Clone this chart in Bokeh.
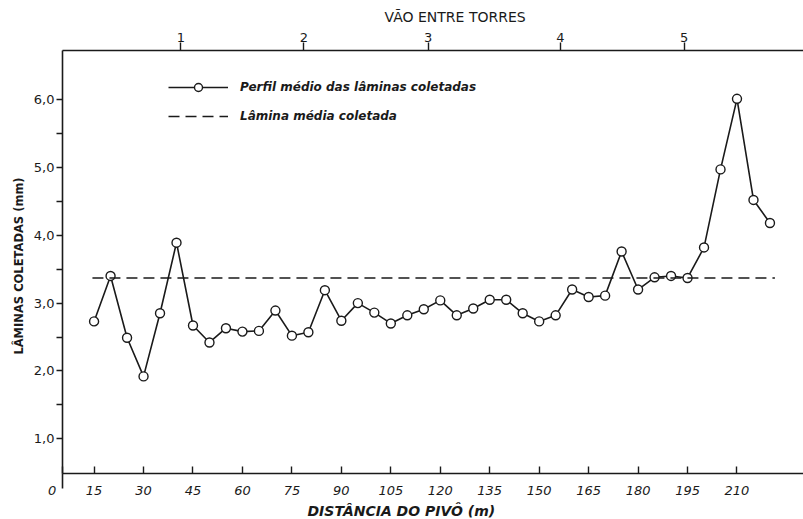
from bokeh.plotting import figure
from bokeh.models import (Range1d, LinearAxis, FixedTicker, CustomJSTickFormatter,
                          Legend, LegendItem, Title)
from bokeh.embed import file_html
from bokeh.resources import INLINE

# ---------------- data ----------------
distancia = list(range(15, 221, 5))  # m
lamina = [2.73, 3.40, 2.49, 1.92, 2.85, 3.89, 2.67, 2.42, 2.63, 2.58,
          2.59, 2.89, 2.52, 2.57, 3.19, 2.74, 3.00, 2.86, 2.70, 2.82,
          2.91, 3.04, 2.82, 2.92, 3.05, 3.05, 2.85, 2.73, 2.82, 3.20,
          3.09, 3.11, 3.76, 3.20, 3.38, 3.40, 3.37, 3.82, 4.97, 6.01,
          4.52, 4.18]
lamina_media = 3.37
media_x = [14.5, 221.5]
torres_pos = [41.3, 78.6, 116.3, 156.4, 194.0]
torres_rot = ["1", "2", "3", "4", "5"]
x_ticks = list(range(15, 211, 15))
y_ticks = [1, 2, 3, 4, 5, 6]
y_minor = [1.5, 2.5, 3.5, 4.5, 5.5]
y_rot = ["1,0", "2,0", "3,0", "4,0", "5,0", "6,0"]

X0, X1 = 5.42, 230.17
Y0, Y1 = 0.489, 6.722
INK = "#1a1a1a"
FONT = "DejaVu Sans"

p = figure(width=803, height=519, output_backend="svg", toolbar_location=None,
           x_range=Range1d(X0, X1), y_range=Range1d(Y0, Y1),
           x_axis_location=None, y_axis_location=None,
           min_border_left=62, min_border_top=50, min_border_bottom=46,
           min_border_right=0)
p.outline_line_color = None
p.xgrid.visible = False
p.ygrid.visible = False
p.background_fill_color = "white"
p.border_fill_color = "white"

origem = X0 + 0.01  # broken origin "0" at the corner

# bottom axis
xb = LinearAxis(ticker=FixedTicker(ticks=[origem] + x_ticks, minor_ticks=[origem]),
                formatter=CustomJSTickFormatter(
                    args=dict(zero="0" + "\u00a0" * 5, lim=X0 + 1),
                    code="return tick < lim ? zero : tick.toFixed(0)"))
xb.major_tick_in = 7
xb.major_tick_out = 0
xb.minor_tick_in = 0
xb.minor_tick_out = 15
xb.minor_tick_line_color = INK
xb.minor_tick_line_width = 1.6
xb.major_label_standoff = -6
xb.major_label_text_font = FONT
xb.major_label_text_font_style = "italic"
xb.major_label_text_font_size = "13px"
xb.major_label_text_color = INK
xb.axis_line_color = INK
xb.axis_line_width = 1.6
xb.major_tick_line_color = INK
xb.major_tick_line_width = 1.4
p.add_layout(xb, "below")

# top axis (towers)
xt = LinearAxis(ticker=FixedTicker(ticks=torres_pos, minor_ticks=[]),
                formatter=CustomJSTickFormatter(args=dict(rot=torres_rot),
                                                code="return rot[index]"))
xt.major_tick_in = 0
xt.major_tick_out = 8
xt.minor_tick_line_color = None
xt.major_label_standoff = 1
xt.major_label_text_font = FONT
xt.major_label_text_font_size = "13px"
xt.major_label_text_color = INK
xt.axis_line_color = INK
xt.axis_line_width = 1.6
xt.major_tick_line_color = INK
xt.major_tick_line_width = 1.4
p.add_layout(xt, "above")

# left axis
yl = LinearAxis(ticker=FixedTicker(ticks=y_ticks, minor_ticks=y_minor))
yl.major_label_overrides = {t: s for t, s in zip(y_ticks, y_rot)}
yl.major_tick_in = 0
yl.major_tick_out = 6
yl.minor_tick_in = 0
yl.minor_tick_out = 6
yl.major_label_standoff = 2
yl.major_label_text_font = FONT
yl.major_label_text_font_size = "13px"
yl.major_label_text_color = INK
yl.axis_line_color = INK
yl.axis_line_width = 1.6
yl.major_tick_line_color = INK
yl.minor_tick_line_color = INK
yl.major_tick_line_width = 1.4
yl.minor_tick_line_width = 1.4
yl.axis_label = "LÂMINAS COLETADAS   (mm)"
yl.axis_label_text_font = FONT
yl.axis_label_text_font_style = "bold"
yl.axis_label_text_font_size = "11.5px"
yl.axis_label_text_color = INK
yl.axis_label_standoff = 5
p.add_layout(yl, "left")

# titles of the top and bottom scales
p.add_layout(Title(text="VÃO ENTRE TORRES", align="left", offset=322, standoff=10,
                   text_font=FONT, text_font_size="14px", text_font_style="normal",
                   text_color=INK), "above")
p.add_layout(Title(text="DISTÂNCIA DO PIVÔ (m)", align="left", offset=245, standoff=0,
                   text_font=FONT, text_font_size="14px",
                   text_font_style="bold italic", text_color=INK), "below")

# series
r_line = p.line(distancia, lamina, line_color=INK, line_width=1.6)
r_pts = p.scatter(distancia, lamina, marker="circle", size=9, fill_color="white",
                  line_color=INK, line_width=1.4)
r_mean = p.line(media_x, [lamina_media, lamina_media], line_color=INK,
                line_width=1.6, line_dash="11 6")

leg = Legend(items=[LegendItem(label="Perfil médio das lâminas coletadas",
                               renderers=[r_line, r_pts]),
                    LegendItem(label="Lâmina média coletada", renderers=[r_mean])],
             location=(106, 347), orientation="vertical",
             glyph_width=60, glyph_height=20, label_height=20, label_standoff=12,
             spacing=9, padding=0, margin=0, border_line_color=None,
             background_fill_alpha=0, label_text_font=FONT,
             label_text_font_style="bold italic", label_text_font_size="12px",
             label_text_color=INK)
p.add_layout(leg)

open("out.html", "w").write(file_html(p, INLINE))
